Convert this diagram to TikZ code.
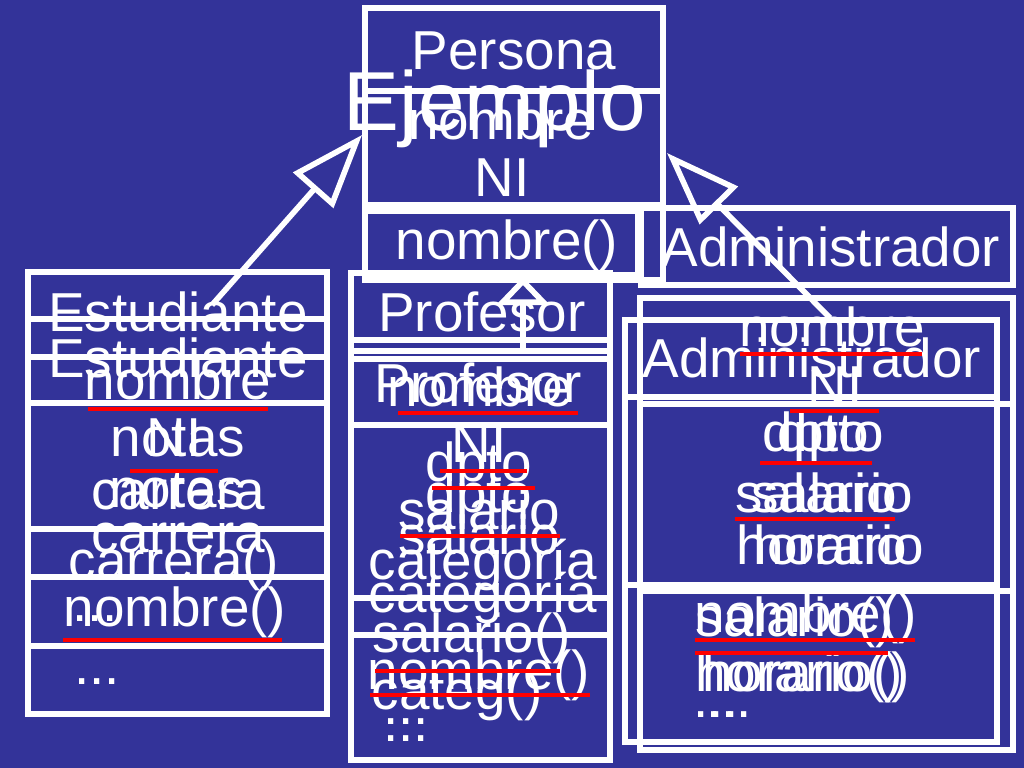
\documentclass[tikz,border=0pt]{standalone}
\usepackage{fontspec}
\setmainfont{Liberation Sans}
\usetikzlibrary{arrows.meta}

\definecolor{slideblue}{RGB}{51,51,153}
\definecolor{markred}{RGB}{255,0,0}
\newcommand{\classfont}{\fontsize{15.6}{18}\selectfont}
\newcommand{\titlefont}{\fontsize{23.8}{28}\selectfont}

\tikzset{
    box/.style={draw=white, line width=1.8pt},
    lbl/.style={anchor=base, text=white, inner sep=0pt, font=\classfont},
    uline/.style={draw=markred, line width=1.2pt},
    gen/.style={draw=white, line width=1.6pt,
        -{Triangle[open, length=21pt, width=15pt]}},
    genflat/.style={draw=white, line width=1.6pt,
        -{Triangle[open, length=8pt, width=15pt]}}
}

\begin{document}
\begin{tikzpicture}[x=0.01cm, y=-0.01cm]
    \useasboundingbox (0,0) rectangle (1024,768);
    \fill[slideblue] (0,0) rectangle (1024,768);   % Slide background

    % Persona class
    \draw[box] (365,8) rectangle (663,280);
    \draw[box] (365,91) -- (663,91);
    \draw[box] (365,205) -- (663,205);
    \draw[box] (365,211) rectangle (638,275);

    % Administrador, first box
    \draw[box] (641,208) rectangle (1013,285);

    % Estudiante class
    \draw[box] (28,272) rectangle (327,714);
    \foreach \y in {319,357,403,529,577,646} {
        \draw[box] (28,\y) -- (327,\y);
    }

    % Profesor class
    \draw[box] (351,273) rectangle (610,760);
    \foreach \y in {340,351,359,425,598,635} {
        \draw[box] (351,\y) -- (610,\y);
    }

    % Administrador class, two frames
    \draw[box] (640,298) rectangle (1013,750);
    \draw[box] (625,320) rectangle (997,742);
    \draw[box] (625,397) -- (997,397);
    \draw[box] (640,404) -- (1013,404);
    \draw[box] (625,585) -- (997,585);
    \draw[box] (640,591) -- (1013,591);

    % Persona texts
    \node[lbl, font=\titlefont] (title) at (495,131) {Ejemplo};
    \node[lbl] (perName)  at (514,70)  {Persona};
    \node[lbl] (perAttrA) at (501,140) {nombre};
    \node[lbl] (perAttrB) at (502,197) {NI};
    \node[lbl] (perMeth)  at (507,260) {nombre()};
    \node[lbl] (admName)  at (831,267) {Administrador};

    % Estudiante texts
    \node[lbl] (estNameA) at (178,332) {Estudiante};
    \node[lbl] (estNameB) at (178,378) {Estudiante};
    \node[lbl] (estAttrA) at (178,400) {nombre};
    \node[lbl] (estAttrB) at (174,457) {NI};
    \node[lbl] (estAttrC) at (178,457) {notas};
    \node[lbl] (estAttrD) at (178,510) {carrera};
    \node[lbl] (estAttrE) at (177,508) {notas};
    \node[lbl] (estAttrF) at (178,553) {carrera};
    \node[lbl] (estMethA) at (174,580) {carrera()};
    \node[lbl] (estDotsA) at (95,622)  {...};
    \node[lbl] (estMethB) at (175,627) {nombre()};
    \node[lbl] (estDotsB) at (97,685)  {...};
    \draw[uline] (88,409) -- (268,409);
    \draw[uline] (130,471) -- (218,471);
    \draw[uline] (63,640) -- (282,640);

    % Profesor texts
    \node[lbl] (profNameA) at (482,332) {Profesor};
    \node[lbl] (profNameB) at (478,403) {Profesor};
    \node[lbl] (profAttrA) at (480,407) {nombre};
    \node[lbl] (profAttrB) at (479,463) {NI};
    \node[lbl] (profAttrC) at (479,482) {dpto};
    \node[lbl] (profAttrD) at (479,513) {dpto};
    \node[lbl] (profAttrE) at (479,530) {salario};
    \node[lbl] (profAttrF) at (479,555) {salario};
    \node[lbl] (profAttrG) at (483,580) {categoría};
    \node[lbl] (profAttrH) at (483,613) {categoría};
    \node[lbl] (profMethA) at (472,653) {salario()};
    \node[lbl] (profMethB) at (479,690) {nombre()};
    \node[lbl] (profMethC) at (457,710) {categ()};
    \node[lbl] (profDotsA) at (406,725) {...};
    \node[lbl] (profDotsB) at (406,742) {...};
    \draw[uline] (398,413) -- (578,413);
    \draw[uline] (440,471) -- (527,471);
    \draw[uline] (432,488) -- (535,488);
    \draw[uline] (400,536) -- (560,536);
    \draw[uline] (375,671) -- (560,671);
    \draw[uline] (370,695) -- (590,695);

    % Administrador texts
    \node[lbl] (admAttrA) at (832,347) {nombre};
    \node[lbl] (admNameB) at (812,378) {Administrador};
    \node[lbl] (admAttrB) at (835,405) {NI};
    \node[lbl] (admAttrC) at (816,452) {dpto};
    \node[lbl] (admAttrD) at (831,452) {dpto};
    \node[lbl] (admAttrE) at (816,513) {salario};
    \node[lbl] (admAttrF) at (832,513) {salario};
    \node[lbl] (admAttrG) at (822,565) {horario};
    \node[lbl] (admAttrH) at (839,565) {horario};
    \node[lbl] (admMethA) at (806,633) {nombre()};
    \node[lbl] (admMethB) at (795,637) {salario()};
    \node[lbl] (admMethC) at (799,692) {horario()};
    \node[lbl] (admMethD) at (806,692) {horario()};
    \node[lbl] (admDotsA) at (716,718) {...};
    \node[lbl] (admDotsB) at (729,718) {...};
    \draw[uline] (740,354) -- (922,354);
    \draw[uline] (790,411) -- (879,411);
    \draw[uline] (760,463) -- (872,463);
    \draw[uline] (735,519) -- (895,519);
    \draw[uline] (695,640) -- (915,640);
    \draw[uline] (695,653) -- (888,653);

    % Generalisation arrows
    \coordinate (estFrom)    at (212,305);
    \coordinate (perLeft)    at (362,135);
    \coordinate (profFrom)   at (523,348);
    \coordinate (perBottom)  at (523,277);
    \coordinate (admFrom)    at (830,318);
    \coordinate (perRight)   at (667,153);
    \draw[gen]     (estFrom)  -- (perLeft);
    \draw[genflat] (profFrom) -- (perBottom);
    \draw[gen]     (admFrom)  -- (perRight);
\end{tikzpicture}
\end{document}
